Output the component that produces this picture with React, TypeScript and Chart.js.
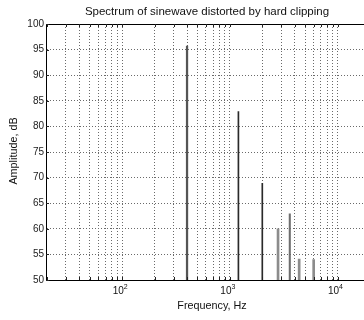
import React, { useEffect, useRef } from "react";
import { Chart, registerables } from "chart.js";

Chart.register(...registerables);

// ---- data ----
const freqs = [400, 1200, 2000, 2800, 3600, 4400, 6000];
const amps = [95.7, 82.9, 68.9, 60.0, 62.9, 54.1, 54.0];
const stemColors = ["#555555", "#2a2a2a", "#2a2a2a", "#8c8c8c", "#6e6e6e", "#8c8c8c", "#8c8c8c"];
const stemWidths = [1.6, 1, 1, 2, 1.4, 2, 2];

const yTicks = [50, 55, 60, 65, 70, 75, 80, 85, 90, 95, 100];
const xGridTicks = [
  20, 30, 40, 50, 60, 70, 80, 90,
  100, 200, 300, 400, 500, 600, 700, 800, 900,
  1000, 2000, 3000, 4000, 5000, 6000, 7000, 8000, 9000,
  10000,
];
const xLabelValues = [100, 1000, 10000];
const xLabelExps = ["2", "3", "4"];
const xMin = 19.6;
const xMax = 17600;
const yMin = 50;
const yMax = 100;

const titleText = "Spectrum of sinewave distorted by hard clipping";
const xTitleText = "Frequency, Hz";
const yTitleText = "Amplitude, dB";

const FONT = "'Liberation Sans', Arial, Helvetica, sans-serif";

const decorPlugin = {
  id: "decor",
  afterDraw(chart: any) {
    const ctx = chart.ctx as CanvasRenderingContext2D;
    const area = chart.chartArea;
    const xs = chart.scales.x;
    const ys = chart.scales.y;
    ctx.save();
    // top border
    ctx.strokeStyle = "#000";
    ctx.lineWidth = 1;
    ctx.beginPath();
    ctx.moveTo(area.left, Math.round(area.top) + 0.5);
    ctx.lineTo(area.right, Math.round(area.top) + 0.5);
    ctx.stroke();
    // inward tick marks
    ctx.strokeStyle = "#222";
    ctx.beginPath();
    xGridTicks.forEach((v) => {
      const px = Math.round(xs.getPixelForValue(v)) + 0.5;
      ctx.moveTo(px, area.bottom);
      ctx.lineTo(px, area.bottom - 3);
      ctx.moveTo(px, area.top);
      ctx.lineTo(px, area.top + 3);
    });
    yTicks.forEach((v) => {
      const py = Math.round(ys.getPixelForValue(v)) + 0.5;
      ctx.moveTo(area.left, py);
      ctx.lineTo(area.left + 3, py);
    });
    ctx.stroke();

    ctx.fillStyle = "#111";
    // x tick labels with superscripts
    xLabelValues.forEach((v, i) => {
      const px = xs.getPixelForValue(v);
      ctx.font = `10px ${FONT}`;
      ctx.textAlign = "center";
      ctx.textBaseline = "alphabetic";
      ctx.fillText("10", px - 4, 294);
      ctx.font = `7px ${FONT}`;
      ctx.textAlign = "left";
      ctx.fillText(xLabelExps[i], px + 1.5, 289);
    });

    // title
    ctx.font = `11.5px ${FONT}`;
    ctx.textAlign = "center";
    ctx.textBaseline = "middle";
    ctx.fillText(titleText, 207, 12);
    // x title
    ctx.font = `10.8px ${FONT}`;
    ctx.fillText(xTitleText, 212, 306);
    // y title
    ctx.translate(14, 151);
    ctx.rotate(-Math.PI / 2);
    ctx.fillText(yTitleText, 0, 0);
    ctx.restore();
  },
};

export default function App() {
  const ref = useRef<HTMLCanvasElement | null>(null);

  useEffect(() => {
    if (!ref.current) return;
    const datasets = freqs.map((f, i) => ({
      data: [{ x: f, y: amps[i] }],
      backgroundColor: stemColors[i],
      borderWidth: 0,
      barThickness: stemWidths[i],
      grouped: false,
    }));
    const chart = new Chart(ref.current, {
      type: "bar",
      data: { datasets },
      options: {
        animation: false,
        responsive: false,
        maintainAspectRatio: false,
        devicePixelRatio: 1,
        layout: { padding: { top: 24, left: 0, right: 0, bottom: 0 } },
        plugins: {
          legend: { display: false },
          tooltip: { enabled: false },
          title: { display: false },
        },
        scales: {
          x: {
            type: "logarithmic",
            min: xMin,
            max: xMax,
            offset: false,
            afterBuildTicks: (scale: any) => {
              scale.ticks = xGridTicks.map((v) => ({ value: v }));
            },
            afterFit: (scale: any) => {
              scale.height = 40;
            },
            ticks: { display: false, autoSkip: false },
            grid: {
              display: true,
              drawTicks: false,
              tickLength: 0,
              color: "#6a6a6a",
              lineWidth: 1,
              offset: false,
            },
            border: { display: true, color: "#000", width: 1, dash: [1, 2] },
          },
          y: {
            type: "linear",
            min: yMin,
            max: yMax,
            afterBuildTicks: (scale: any) => {
              scale.ticks = yTicks.map((v) => ({ value: v }));
            },
            afterFit: (scale: any) => {
              scale.width = 46;
            },
            ticks: {
              autoSkip: false,
              padding: 2,
              color: "#222",
              font: { family: FONT, size: 10 },
              callback: (v: any) => String(v),
            },
            grid: {
              display: true,
              drawTicks: false,
              tickLength: 0,
              color: "#6a6a6a",
              lineWidth: 1,
            },
            border: { display: true, color: "#000", width: 1, dash: [1, 2] },
          },
        },
      },
      plugins: [decorPlugin],
    } as any);
    return () => chart.destroy();
  }, []);

  return (
    <div style={{ position: "fixed", left: 0, top: 0, width: 364, height: 320, background: "#fff" }}>
      <canvas ref={ref} width={364} height={320} style={{ width: 364, height: 320, display: "block" }} />
    </div>
  );
}
